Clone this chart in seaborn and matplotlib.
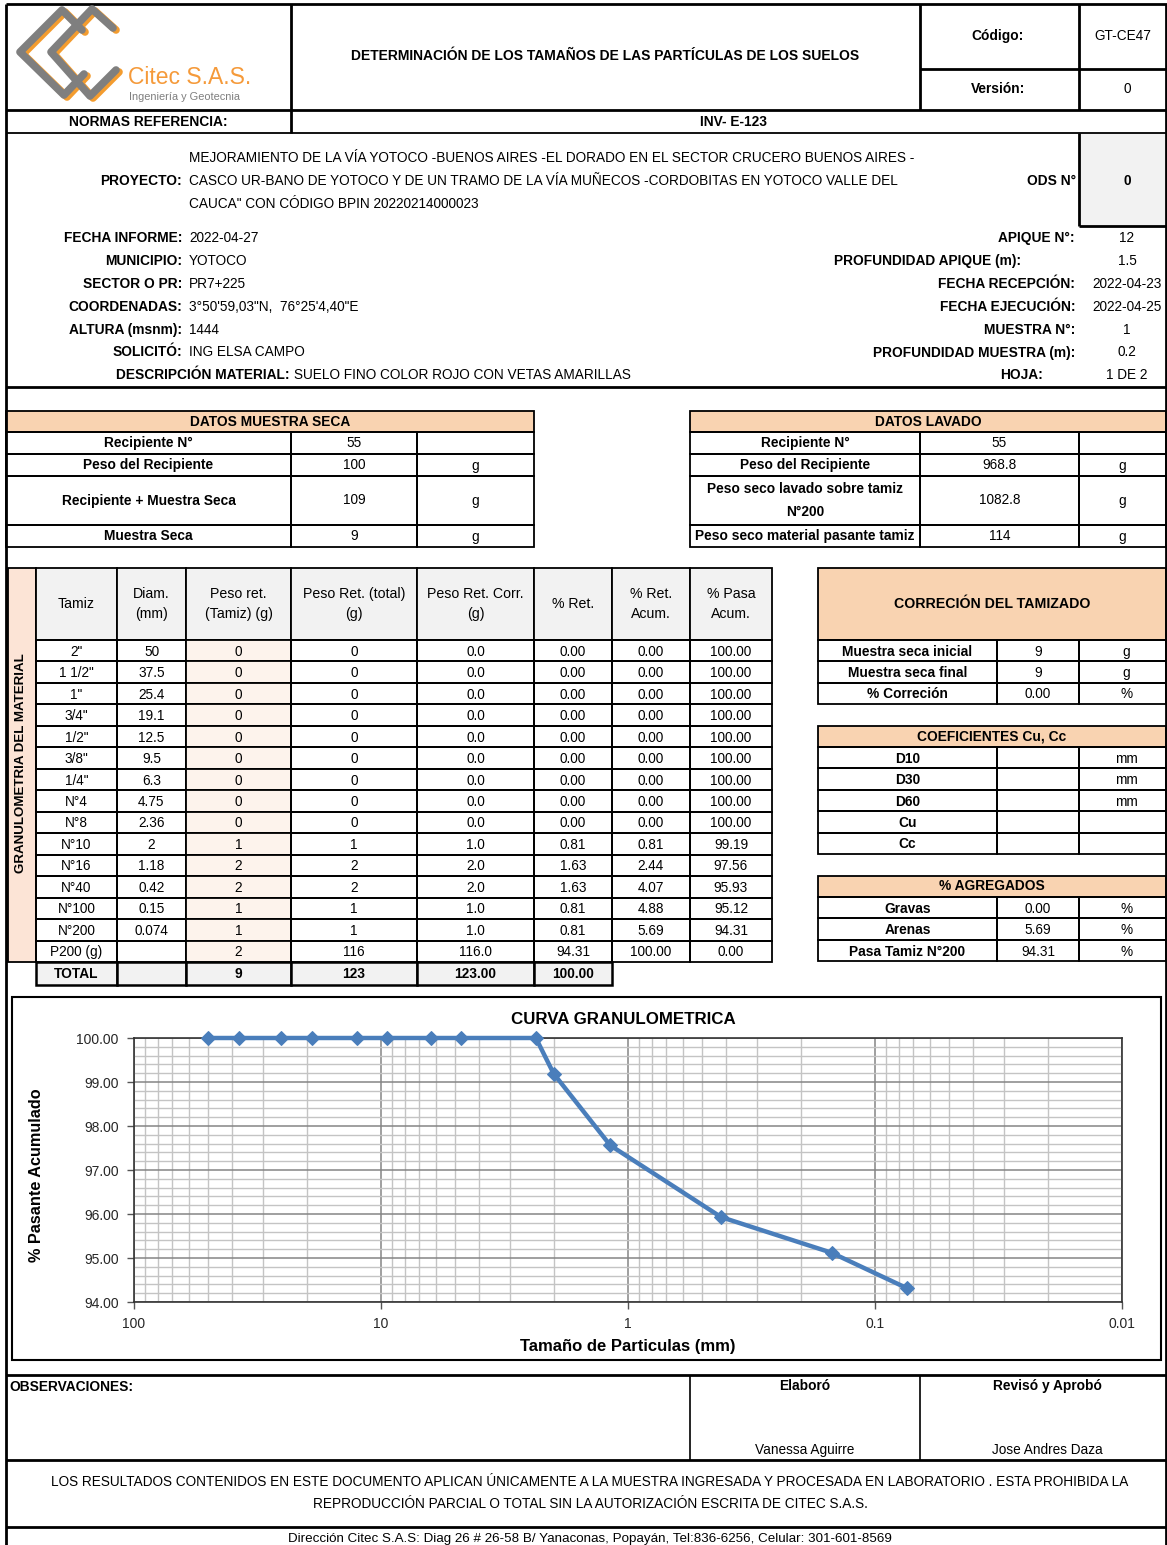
import numpy as np
import pandas as pd
import seaborn as sns
import matplotlib.pyplot as plt
from matplotlib.patches import Rectangle
from matplotlib.ticker import LogLocator, MultipleLocator, FuncFormatter, NullFormatter

W, H = 1167, 1545

# ---- data ----
tamiz = ['2"', '1 1/2"', '1"', '3/4"', '1/2"', '3/8"', '1/4"', 'N°4', 'N°8',
         'N°10', 'N°16', 'N°40', 'N°100', 'N°200', 'P200 (g)']
diam = [50, 37.5, 25.4, 19.1, 12.5, 9.5, 6.3, 4.75, 2.36, 2, 1.18, 0.42, 0.15, 0.074, None]
peso_ret = [0, 0, 0, 0, 0, 0, 0, 0, 0, 1, 2, 2, 1, 1, 2]
peso_total = [0, 0, 0, 0, 0, 0, 0, 0, 0, 1, 2, 2, 1, 1, 116]
peso_corr = [0.0, 0.0, 0.0, 0.0, 0.0, 0.0, 0.0, 0.0, 0.0, 1.0, 2.0, 2.0, 1.0, 1.0, 116.0]
pct_ret = [0.00, 0.00, 0.00, 0.00, 0.00, 0.00, 0.00, 0.00, 0.00, 0.81, 1.63, 1.63, 0.81, 0.81, 94.31]
pct_acum = [0.00, 0.00, 0.00, 0.00, 0.00, 0.00, 0.00, 0.00, 0.00, 0.81, 2.44, 4.07, 4.88, 5.69, 100.00]
pct_pasa = [100.00, 100.00, 100.00, 100.00, 100.00, 100.00, 100.00, 100.00, 100.00,
            99.19, 97.56, 95.93, 95.12, 94.31, 0.00]
totales = ['TOTAL', '', '9', '123', '123.00', '100.00']

seca_labels = ['Recipiente N°', 'Peso del Recipiente', 'Recipiente + Muestra Seca', 'Muestra Seca']
seca_vals = ['55', '100', '109', '9']
seca_units = ['', 'g', 'g', 'g']
lav_labels = ['Recipiente N°', 'Peso del Recipiente', 'Peso seco lavado sobre tamiz\nN°200',
              'Peso seco material pasante tamiz']
lav_vals = ['55', '968.8', '1082.8', '114']
lav_units = ['', 'g', 'g', 'g']

corr_labels = ['Muestra seca inicial', 'Muestra seca final', '% Correción']
corr_vals = ['9', '9', '0.00']
corr_units = ['g', 'g', '%']
coef_labels = ['D10', 'D30', 'D60', 'Cu', 'Cc']
coef_units = ['mm', 'mm', 'mm', '', '']
agr_labels = ['Gravas', 'Arenas', 'Pasa Tamiz N°200']
agr_vals = ['0.00', '5.69', '94.31']

info_left = [('FECHA INFORME:', '2022-04-27'), ('MUNICIPIO:', 'YOTOCO'), ('SECTOR O PR:', 'PR7+225'),
             ('COORDENADAS:', '3°50\'59,03"N,  76°25\'4,40"E'), ('ALTURA (msnm):', '1444'),
             ('SOLICITÓ:', 'ING ELSA CAMPO')]
info_right = [('APIQUE N°:', '12', 1075), ('PROFUNDIDAD APIQUE (m):', '1.5', 1021),
              ('FECHA RECEPCIÓN:', '2022-04-23', 1075), ('FECHA EJECUCIÓN:', '2022-04-25', 1075),
              ('MUESTRA N°:', '1', 1075), ('PROFUNDIDAD MUESTRA (m):', '0.2', 1075), ('HOJA:', '1 DE 2', 1043)]
proyecto = ['MEJORAMIENTO DE LA VÍA YOTOCO -BUENOS AIRES -EL DORADO EN EL SECTOR CRUCERO BUENOS AIRES -',
            'CASCO UR-BANO DE YOTOCO Y DE UN TRAMO DE LA VÍA MUÑECOS -CORDOBITAS EN YOTOCO VALLE DEL',
            'CAUCA" CON CÓDIGO BPIN 20220214000023']

sns.set_theme(style='white')
plt.rcParams['font.family'] = ['Liberation Sans', 'DejaVu Sans']

PEACH = '#f9d3b1'
GRAY = '#f2f2f2'
PINK = '#fce4d6'
REG = 9.8   # regular text
LAB = 9.9   # bold labels

fig = plt.figure(figsize=(W / 100, H / 100), dpi=100)
ax0 = fig.add_axes([0, 0, 1, 1])
ax0.set_xlim(0, W)
ax0.set_ylim(H, 0)
ax0.axis('off')


def box(x0, y0, x1, y1, fc='none', lw=1.3):
    ax0.add_patch(Rectangle((x0, y0), x1 - x0, y1 - y0, facecolor=fc, edgecolor='black', lw=lw, zorder=2))


def hl(y, x0, x1, lw=2):
    ax0.plot([x0, x1], [y, y], color='black', lw=lw, zorder=3, solid_capstyle='butt')


def vl(x, y0, y1, lw=2):
    ax0.plot([x, x], [y0, y1], color='black', lw=lw, zorder=3, solid_capstyle='butt')


def t(x, y, s, ha='center', size=REG, bold=False, color='black', **kw):
    ax0.text(x, y, s, ha=ha, va='center', fontsize=size, color=color,
             fontweight='bold' if bold else 'normal', zorder=5, **kw)


# ---- page frame / header ----
vl(6, 4, H)
vl(1165.5, 4, H)
hl(4, 6, W)
hl(110, 6, W)
hl(133, 6, W, lw=1.3)
vl(291, 4, 133)
vl(920, 4, 110)
vl(1079, 4, 110)
hl(69, 920, W)

# logo
for dx, dy, col in [(3, 2, '#f39c2f'), (0, 0, '#7f7f7f')]:
    for path in [[(82, 30), (62, 10), (20, 52), (64, 95), (84, 74)],
                 [(113, 28), (92, 9), (51, 52), (90, 96), (116, 70)]]:
        xs = [p[0] + dx for p in path]
        ys = [p[1] + dy for p in path]
        ax0.plot(xs, ys, color=col, lw=5.5, solid_capstyle='round', solid_joinstyle='round', zorder=4)
t(128, 77, 'Citec S.A.S.', ha='left', size=16.5, color='#f59a3a')
t(129, 97, 'Ingeniería y Geotecnia', ha='left', size=7.9, color='#7f7f7f')

t(605, 56, 'DETERMINACIÓN DE LOS TAMAÑOS DE LAS PARTÍCULAS DE LOS SUELOS', size=10, bold=True)
t(998, 36, 'Código:', bold=True, size=LAB)
t(1123, 36, 'GT-CE47')
t(998, 89, 'Versión:', bold=True, size=LAB)
t(1127, 89, '0')
t(148, 122, 'NORMAS REFERENCIA:', bold=True, size=LAB)
t(733, 122, 'INV- E-123', bold=True, size=LAB)

# ---- info section ----
ax0.add_patch(Rectangle((1079, 133), 88, 93, facecolor=GRAY, edgecolor='none', zorder=1))
vl(1079, 133, 226)
hl(226, 1079, W)
t(1127, 181, '0', bold=True, size=LAB)
t(1076, 181, 'ODS N°', ha='right', bold=True, size=LAB)
t(182, 181, 'PROYECTO:', ha='right', bold=True, size=LAB)
for i, line in enumerate(proyecto):
    t(189, 158 + 23 * i, line, ha='left')
for i, (lab, val) in enumerate(info_left):
    y = 238 + 22.9 * i
    t(182, y, lab, ha='right', bold=True, size=LAB)
    t(189, y, val, ha='left')
t(289, 375, 'DESCRIPCIÓN MATERIAL:', ha='right', bold=True, size=LAB)
t(294, 375, 'SUELO FINO COLOR ROJO CON VETAS AMARILLAS', ha='left')
for i, (lab, val, xr) in enumerate(info_right):
    y = 238 + 22.9 * i
    t(xr, y, lab, ha='right', bold=True, size=LAB)
    t(1127, y, val)
hl(387, 6, W)

# ---- datos tables ----
drows = [411, 432, 454, 476, 525, 547]


def datos(cols, title, labels, vals, units):
    box(cols[0], drows[0], cols[-1], drows[1], fc=PEACH)
    t((cols[0] + cols[-1]) / 2, (drows[0] + drows[1]) / 2, title, bold=True, size=LAB)
    for r in range(4):
        y0, y1 = drows[r + 1], drows[r + 2]
        for c in range(3):
            box(cols[c], y0, cols[c + 1], y1)
        ym = (y0 + y1) / 2
        t((cols[0] + cols[1]) / 2, ym, labels[r], bold=True, size=LAB, linespacing=1.75)
        t((cols[1] + cols[2]) / 2, ym, vals[r])
        t((cols[2] + cols[3]) / 2, ym + 1, units[r])


datos([6, 291, 417, 534], 'DATOS MUESTRA SECA', seca_labels, seca_vals, seca_units)
datos([690, 920, 1079, 1166], 'DATOS LAVADO', lav_labels, lav_vals, lav_units)

# ---- granulometry table ----
gcols = [36, 117, 186, 291, 417, 534, 612, 690, 772]
grows = [640 + (962 - 640) / 15 * i for i in range(16)]
box(8, 568, 36, 962, fc=PINK)
t(21, 763, 'GRANULOMETRIA DEL MATERIAL', rotation=90, bold=True, size=9.6)
heads = ['Tamiz', 'Diam.\n(mm)', 'Peso ret.\n(Tamiz) (g)', 'Peso Ret. (total)\n(g)',
         'Peso Ret. Corr.\n(g)', '% Ret.', '% Ret.\nAcum.', '% Pasa\nAcum.']
for c, hd in enumerate(heads):
    box(gcols[c], 568, gcols[c + 1], 640, fc=GRAY)
    t((gcols[c] + gcols[c + 1]) / 2, 604, hd, size=10.2, linespacing=1.6)
for r in range(15):
    d = '' if diam[r] is None else f'{diam[r]:g}'
    row = [tamiz[r], d, f'{peso_ret[r]}', f'{peso_total[r]}', f'{peso_corr[r]:.1f}',
           f'{pct_ret[r]:.2f}', f'{pct_acum[r]:.2f}', f'{pct_pasa[r]:.2f}']
    for c, s in enumerate(row):
        box(gcols[c], grows[r], gcols[c + 1], grows[r + 1], fc='#fdf3ec' if c == 2 else 'none')
        t((gcols[c] + gcols[c + 1]) / 2, (grows[r] + grows[r + 1]) / 2 + 1, s)
for c, s in enumerate(totales):
    box(gcols[c], 962, gcols[c + 1], 985, fc=GRAY, lw=1.8)
    t((gcols[c] + gcols[c + 1]) / 2, 974, s, size=LAB, bold=True)

# ---- right side tables ----
rcols = [818, 997, 1079, 1166]


def side(top, title, labels, vals, units, hh=21.4):
    box(rcols[0], top - hh, rcols[-1], top, fc=PEACH)
    t((rcols[0] + rcols[-1]) / 2, top - hh / 2, title, bold=True, size=10.2 if hh > 30 else LAB)
    for r, lab in enumerate(labels):
        y0, y1 = top + 21.4 * r, top + 21.4 * (r + 1)
        for c in range(3):
            box(rcols[c], y0, rcols[c + 1], y1)
        ym = (y0 + y1) / 2 + 1
        t((rcols[0] + rcols[1]) / 2, ym, lab, bold=True, size=LAB)
        t((rcols[1] + rcols[2]) / 2, ym, vals[r])
        t((rcols[2] + rcols[3]) / 2 + 4, ym, units[r])


side(640, 'CORRECIÓN DEL TAMIZADO', corr_labels, corr_vals, corr_units, hh=72)
side(747, 'COEFICIENTES Cu, Cc', coef_labels, [''] * 5, coef_units)
side(897, '% AGREGADOS', agr_labels, agr_vals, ['%', '%', '%'])

# ---- chart ----
box(12, 997, 1161, 1360, lw=1.5)
ax = fig.add_axes([134 / W, 1 - 1302 / H, (1122 - 134) / W, (1302 - 1038) / H])
ax.set_zorder(3)
curve = pd.DataFrame({'diam': diam[:14], 'pasa': pct_pasa[:14]})
sns.lineplot(data=curve, x='diam', y='pasa', ax=ax, color='#4a7ebb', lw=3.2, marker='D',
             markersize=7, markeredgecolor='#4a7ebb', sort=False, clip_on=False, zorder=5)
ax.set_xscale('log')
ax.set_xlim(100, 0.01)
ax.set_ylim(94, 100)
ax.xaxis.set_major_locator(LogLocator(base=10))
ax.xaxis.set_minor_locator(LogLocator(base=10, subs=np.arange(2, 10)))
ax.xaxis.set_minor_formatter(NullFormatter())
ax.xaxis.set_major_formatter(FuncFormatter(lambda v, p: f'{v:g}'))
ax.yaxis.set_major_locator(MultipleLocator(1))
ax.yaxis.set_minor_locator(MultipleLocator(0.2))
ax.yaxis.set_major_formatter(FuncFormatter(lambda v, p: f'{v:.2f}'))
ax.grid(which='major', color='#858585', lw=1.1)
ax.grid(which='minor', color='#c4c4c4', lw=1.0)
ax.tick_params(which='major', length=5, width=1, color='#555555', labelsize=10, pad=6, bottom=True, left=True)
ax.tick_params(which='minor', length=0)
for sp in ax.spines.values():
    sp.set_color('#333333')
    sp.set_linewidth(1.2)
ax.set_xlabel('')
ax.set_ylabel('')
t(623, 1020, 'CURVA GRANULOMETRICA', size=12.2, bold=True)
t(628, 1347, 'Tamaño de Particulas (mm)', size=12, bold=True)
t(37, 1175, '% Pasante Acumulado', size=11.7, bold=True, rotation=90)

# ---- footer ----
hl(1375, 6, W)
vl(690, 1375, 1460, lw=1.2)
vl(920, 1375, 1460, lw=1.2)
t(9, 1387, 'OBSERVACIONES:', ha='left', bold=True, size=LAB)
t(805, 1386, 'Elaboró', bold=True, size=LAB)
t(1047, 1386, 'Revisó y Aprobó', bold=True, size=LAB)
t(805, 1450, 'Vanessa Aguirre')
t(1047, 1450, 'Jose Andres Daza')
hl(1460, 6, W)
t(590, 1482, 'LOS RESULTADOS CONTENIDOS EN ESTE DOCUMENTO APLICAN ÚNICAMENTE A LA MUESTRA INGRESADA Y PROCESADA EN LABORATORIO . ESTA PROHIBIDA LA')
t(590, 1504, 'REPRODUCCIÓN PARCIAL O TOTAL SIN LA AUTORIZACIÓN ESCRITA DE CITEC S.A.S.')
hl(1527, 6, W)
t(590, 1539, 'Dirección Citec S.A.S: Diag 26 # 26-58 B/ Yanaconas, Popayán, Tel:836-6256, Celular: 301-601-8569',
  size=9.6)

fig.savefig('out.png', dpi=100)
